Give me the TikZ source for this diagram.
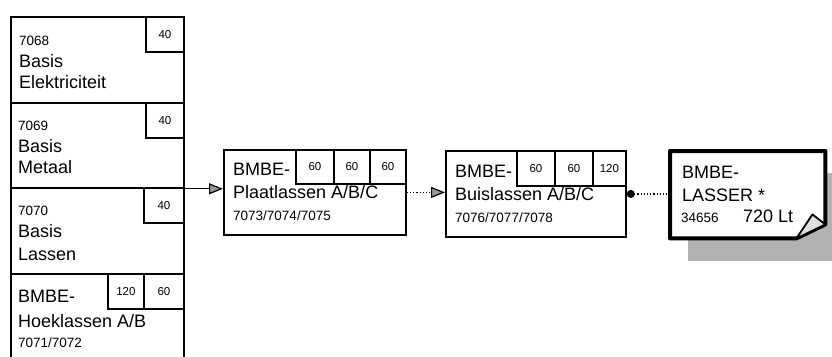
\documentclass[tikz,border=0pt]{standalone}
\usepackage{fontspec}
\setmainfont{Liberation Sans}
\usetikzlibrary{arrows.meta}

\tikzset{
  unit/.style={draw, line width=1.8pt, anchor=north west, inner sep=0pt},
  hrs/.style={unit, minimum height=35pt, font=\fontsize{11.5}{12}\selectfont},
  lbltext/.style={anchor=base west, inner sep=0pt, font=\fontsize{18}{20}\selectfont},
  nrtext/.style={anchor=base west, inner sep=0pt, font=\fontsize{13.5}{15}\selectfont},
  link/.style={line width=1.2pt, -{Triangle[length=14pt,width=11pt,fill=gray!80]}}
}

\begin{document}
\begin{tikzpicture}[x=1pt,y=-1pt]
  \useasboundingbox (0,0) rectangle (832,356);

  % basis modules
  \node[unit, minimum width=173pt, minimum height=86pt] (elek)   at (10,16)  {};
  \node[unit, minimum width=173pt, minimum height=85pt] (metaal) at (10,102) {};
  \node[unit, minimum width=173pt, minimum height=86pt] (lassen) at (10,187) {};
  \node[unit, minimum width=173pt, minimum height=95pt] (hoek)   at (10,273) {};

  \node[hrs, minimum width=38pt] (elekh)   at (145,16)  {40};
  \node[hrs, minimum width=38pt] (metaalh) at (145,102) {40};
  \node[hrs, minimum width=40pt] (lassenh) at (143,187) {40};
  \node[hrs, minimum width=36pt] (hoekha)  at (107,273) {120};
  \node[hrs, minimum width=40pt] (hoekhb)  at (143,273) {60};

  \node[nrtext]  (elek1)   at (19,45)  {7068};
  \node[lbltext] (elek2)   at (19,67)  {Basis};
  \node[lbltext] (elek3)   at (19,88)  {Elektriciteit};
  \node[nrtext]  (metaal1) at (18,130) {7069};
  \node[lbltext] (metaal2) at (18,152) {Basis};
  \node[lbltext] (metaal3) at (18,173) {Metaal};
  \node[nrtext]  (lassen1) at (18,215) {7070};
  \node[lbltext] (lassen2) at (18,237) {Basis};
  \node[lbltext] (lassen3) at (18,260) {Lassen};
  \node[lbltext] (hoek1)   at (18,302) {BMBE-};
  \node[lbltext] (hoek2)   at (18,327) {Hoeklassen A/B};
  \node[nrtext]  (hoek3)   at (18,347) {7071/7072};

  % plaat
  \node[unit, minimum width=182pt, minimum height=85pt] (plaat) at (223,149) {};
  \node[hrs, minimum width=38pt, minimum height=34pt] (plaatha) at (295,149) {60};
  \node[hrs, minimum width=36pt, minimum height=34pt] (plaathb) at (333,149) {60};
  \node[hrs, minimum width=36pt, minimum height=34pt] (plaathc) at (369,149) {60};
  \node[lbltext] (plaat1) at (233,175) {BMBE-};
  \node[lbltext] (plaat2) at (233,198) {Plaatlassen A/B/C};
  \node[nrtext]  (plaat3) at (233,220) {7073/7074/7075};

  % buis
  \node[unit, minimum width=180pt, minimum height=86pt] (buis) at (445,150) {};
  \node[hrs, minimum width=38pt] (buisha) at (516,150) {60};
  \node[hrs, minimum width=38pt] (buishb) at (554,150) {60};
  \node[hrs, minimum width=33pt] (buishc) at (592,150) {120};
  \node[lbltext] (buis1) at (455,177) {BMBE-};
  \node[lbltext] (buis2) at (455,200) {Buislassen A/B/C};
  \node[nrtext]  (buis3) at (455,222) {7076/7077/7078};

  % lasser
  \node[anchor=north west, inner sep=0pt, minimum width=155pt, minimum height=87pt] (lasser) at (670,151) {};
  \fill[gray!60] ([xshift=18pt,yshift=-22pt]lasser.north west) rectangle ([xshift=18pt,yshift=-23pt]lasser.south east);
  \draw[line width=4pt, line join=round, fill=white]
    (lasser.north west) -- (lasser.north east) -- ([yshift=14pt]lasser.south east)
    -- ([xshift=-29pt]lasser.south east) -- (lasser.south west) -- cycle;
  \draw[line width=1.8pt, line join=round, fill=gray!25]
    ([xshift=-29pt]lasser.south east) -- ([xshift=-13pt,yshift=24pt]lasser.south east)
    -- ([yshift=14pt]lasser.south east) -- cycle;
  \node[lbltext] (lasser1) at (682,178) {BMBE-};
  \node[lbltext] (lasser2) at (682,201) {LASSER *};
  \node[nrtext]  (lasser3) at (681,222) {34656};
  \node[lbltext] (lasser4) at (743,222) {720 Lt};

  % links
  \draw[link] (metaal.south east) -- (metaal.south east -| plaat.west);
  \draw[link, dotted] (plaat.east) -- (plaat.east -| buis.west);
  \draw[line width=1.2pt, dotted, {Circle[length=8pt]}-] (buis.east) -- (buis.east -| lasser.west);

\end{tikzpicture}
\end{document}
